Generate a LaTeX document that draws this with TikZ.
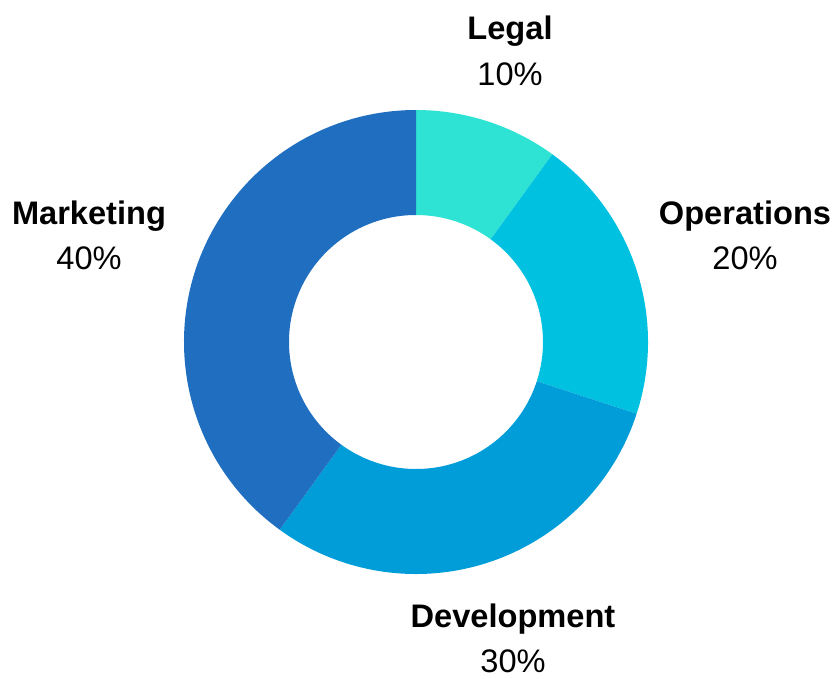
\documentclass[tikz,border=0pt]{standalone}
\usepackage{fontspec}
\setmainfont{Liberation Sans}
\usetikzlibrary{calc}
\definecolor{clegal}{HTML}{2EE3D3}
\definecolor{coper}{HTML}{00C1DF}
\definecolor{cdev}{HTML}{019DD9}
\definecolor{cmkt}{HTML}{1F6EBF}
\begin{document}
\begin{tikzpicture}[x=1pt,y=-1pt,
  lbl/.style={anchor=base,inner sep=0pt,font=\fontsize{32.6}{32.6}\selectfont\bfseries},
  pct/.style={anchor=base,inner sep=0pt,font=\fontsize{32.6}{32.6}\selectfont}]
\useasboundingbox (0,0) rectangle (835,678);
\coordinate (c) at (416,342);
\def\Ro{232}\def\Ri{127}
\fill[clegal] ($(c)+(-90:\Ro)$) arc[start angle=-90,end angle=-54,radius=\Ro] -- ($(c)+(-54:\Ri)$) arc[start angle=-54,end angle=-90,radius=\Ri] -- cycle;
\fill[coper] ($(c)+(-54:\Ro)$) arc[start angle=-54,end angle=18,radius=\Ro] -- ($(c)+(18:\Ri)$) arc[start angle=18,end angle=-54,radius=\Ri] -- cycle;
\fill[cdev] ($(c)+(18:\Ro)$) arc[start angle=18,end angle=126,radius=\Ro] -- ($(c)+(126:\Ri)$) arc[start angle=126,end angle=18,radius=\Ri] -- cycle;
\fill[cmkt] ($(c)+(126:\Ro)$) arc[start angle=126,end angle=270,radius=\Ro] -- ($(c)+(270:\Ri)$) arc[start angle=270,end angle=126,radius=\Ri] -- cycle;
\node[lbl] (legal) at (510,39) {Legal};
\node[pct] (legalp) at (510,85) {10\%};
\node[lbl] (oper) at (745,224) {Operations};
\node[pct] (operp) at (745,269) {20\%};
\node[lbl] (dev) at (513,627) {Development};
\node[pct] (devp) at (513,672) {30\%};
\node[lbl] (mkt) at (89,224) {Marketing};
\node[pct] (mktp) at (89,269) {40\%};
\end{tikzpicture}
\end{document}
